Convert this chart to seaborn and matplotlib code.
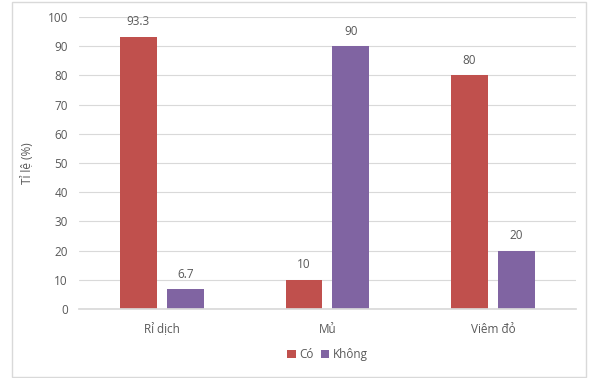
import matplotlib
matplotlib.use("Agg")
import matplotlib.pyplot as plt
from matplotlib.patches import Rectangle
import seaborn as sns
import pandas as pd

categories = ["Rỉ dịch", "Mủ", "Viêm đỏ"]
series_names = ["Có", "Không"]
co_values = [93.3, 10, 80]
khong_values = [6.7, 90, 20]
value_labels = {"Có": ["93.3", "10", "80"], "Không": ["6.7", "90", "20"]}

df = pd.DataFrame({
    "category": categories * 2,
    "series": [series_names[0]] * 3 + [series_names[1]] * 3,
    "value": co_values + khong_values,
})

sns.set_theme(style="white")
plt.rcParams["font.family"] = ["Open Sans", "DejaVu Sans"]
text_color = "#595959"

fig = plt.figure(figsize=(5.9, 3.78), dpi=100)
ax = fig.add_axes([0.134, 0.1825, 0.842, 0.7725])

palette = {"Có": "#C0504D", "Không": "#8064A2"}
sns.barplot(data=df, x="category", y="value", hue="series", order=categories,
            hue_order=series_names, palette=palette, width=0.567, gap=0.213,
            saturation=1, linewidth=0, ax=ax, legend=True)

ax.set_ylim(0, 100)
ax.set_yticks(range(0, 101, 10))
ax.yaxis.grid(True, color="#D9D9D9", linewidth=0.8)
ax.set_axisbelow(True)
for side in ["top", "right", "left"]:
    ax.spines[side].set_visible(False)
ax.spines["bottom"].set_color("#D9D9D9")
ax.tick_params(axis="both", colors=text_color, labelsize=8.5, length=0)
ax.tick_params(axis="x", pad=10)
ax.tick_params(axis="y", pad=8)
ax.set_xlabel("")
ax.set_ylabel("Tỉ lệ (%)", color=text_color, fontsize=8.5, labelpad=10)

for container, name in zip(ax.containers, series_names):
    ax.bar_label(container, labels=value_labels[name], padding=6,
                 color=text_color, fontsize=8.5)

handles, labels = ax.get_legend_handles_labels()
ax.legend(handles, labels, loc="center", bbox_to_anchor=(0.5, -0.155),
          ncol=2, frameon=False, fontsize=8.5, labelcolor=text_color,
          handlelength=0.7, handleheight=0.7, handletextpad=0.3,
          columnspacing=0.6)

fig.patches.append(Rectangle((12 / 590, 1 / 378), 574 / 590, 375 / 378,
                             transform=fig.transFigure, fill=False,
                             edgecolor="#D9D9D9", linewidth=1))

fig.savefig("out.png", dpi=100)
